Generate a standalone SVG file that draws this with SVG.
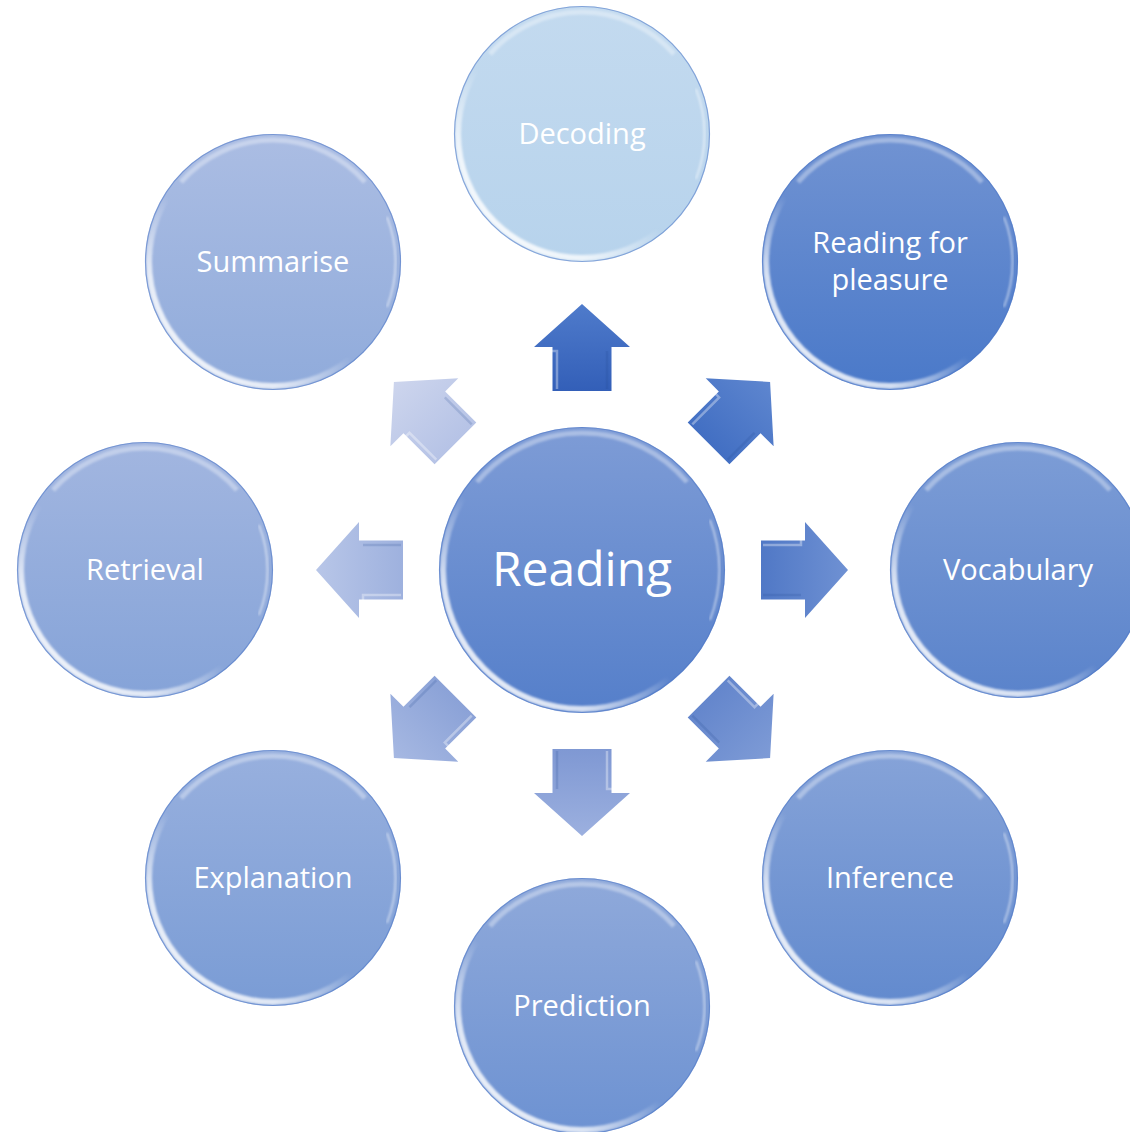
<svg xmlns="http://www.w3.org/2000/svg" width="1130" height="1132" viewBox="0 0 1130 1132">
<style>
.lbl{font-family:"Open Sans","Noto Sans","Liberation Sans",sans-serif;font-size:29px;fill:#ffffff;text-anchor:middle}
.big{font-size:48px}
.rim{fill:none;stroke:url(#rimG);stroke-width:6;filter:url(#soft)}
.top{fill:none;stroke:#ffffff;stroke-opacity:0.35;stroke-width:5;filter:url(#soft)}
.rside{fill:none;stroke:#ffffff;stroke-opacity:0.5;stroke-width:2;filter:url(#soft)}
.edge{fill:none;stroke:#4d77c6;stroke-opacity:0.55;stroke-width:1.2}
.bev{fill:none;stroke:#ffffff;stroke-opacity:0.35;stroke-width:2.5}
.bevd{fill:none;stroke:#22468f;stroke-opacity:0.18;stroke-width:2.5}
</style>
<defs>
<filter id="soft" x="-10%" y="-10%" width="120%" height="120%"><feGaussianBlur stdDeviation="1.2"/></filter>
<linearGradient id="rimG" x1="0" y1="1" x2="0.75" y2="0.15">
<stop offset="0" stop-color="#fff" stop-opacity="0.95"/>
<stop offset="0.3" stop-color="#fff" stop-opacity="0.75"/>
<stop offset="0.55" stop-color="#fff" stop-opacity="0"/>
</linearGradient>
<linearGradient id="cDec" x1="0" y1="0" x2="0" y2="1"><stop offset="0" stop-color="#C3DAEF"/><stop offset="1" stop-color="#B7D3EC"/></linearGradient>
<linearGradient id="cRfp" x1="0" y1="0" x2="0" y2="1"><stop offset="0" stop-color="#7193D2"/><stop offset="1" stop-color="#4A79C9"/></linearGradient>
<linearGradient id="cVoc" x1="0" y1="0" x2="0" y2="1"><stop offset="0" stop-color="#7D9DD6"/><stop offset="1" stop-color="#5A83CB"/></linearGradient>
<linearGradient id="cInf" x1="0" y1="0" x2="0" y2="1"><stop offset="0" stop-color="#86A3D8"/><stop offset="1" stop-color="#628ACE"/></linearGradient>
<linearGradient id="cPre" x1="0" y1="0" x2="0" y2="1"><stop offset="0" stop-color="#8FA9DA"/><stop offset="1" stop-color="#6D92D2"/></linearGradient>
<linearGradient id="cExp" x1="0" y1="0" x2="0" y2="1"><stop offset="0" stop-color="#98B0DE"/><stop offset="1" stop-color="#7A9CD5"/></linearGradient>
<linearGradient id="cRet" x1="0" y1="0" x2="0" y2="1"><stop offset="0" stop-color="#A2B6E0"/><stop offset="1" stop-color="#85A3D8"/></linearGradient>
<linearGradient id="cSum" x1="0" y1="0" x2="0" y2="1"><stop offset="0" stop-color="#ABBDE3"/><stop offset="1" stop-color="#90ABDB"/></linearGradient>
<linearGradient id="cRd" x1="0" y1="0" x2="0" y2="1"><stop offset="0" stop-color="#7E9CD6"/><stop offset="1" stop-color="#557FCA"/></linearGradient>
<linearGradient id="a0" x1="0" y1="0" x2="0" y2="1"><stop offset="0" stop-color="#4F7BCB"/><stop offset="1" stop-color="#335FB8"/></linearGradient>
<linearGradient id="a1" x1="0" y1="0" x2="0" y2="1"><stop offset="0" stop-color="#5E86CF"/><stop offset="1" stop-color="#426FC3"/></linearGradient>
<linearGradient id="a2" x1="0" y1="0" x2="0" y2="1"><stop offset="0" stop-color="#6F91D3"/><stop offset="1" stop-color="#5078C6"/></linearGradient>
<linearGradient id="a3" x1="0" y1="0" x2="0" y2="1"><stop offset="0" stop-color="#7E9BD6"/><stop offset="1" stop-color="#6486CC"/></linearGradient>
<linearGradient id="a4" x1="0" y1="0" x2="0" y2="1"><stop offset="0" stop-color="#9CB0DF"/><stop offset="1" stop-color="#7F98D3"/></linearGradient>
<linearGradient id="a5" x1="0" y1="0" x2="0" y2="1"><stop offset="0" stop-color="#A6B8E2"/><stop offset="1" stop-color="#8BA2D7"/></linearGradient>
<linearGradient id="a6" x1="0" y1="0" x2="0" y2="1"><stop offset="0" stop-color="#B8C6E8"/><stop offset="1" stop-color="#9EB1DE"/></linearGradient>
<linearGradient id="a7" x1="0" y1="0" x2="0" y2="1"><stop offset="0" stop-color="#CDD5ED"/><stop offset="1" stop-color="#B6C3E6"/></linearGradient>
<path id="arrowShape" d="M-29.5,-179 V-223 H-48 L0,-266 L48,-223 H29.5 V-179 Z"/>
</defs>
<rect width="1130" height="1132" fill="#ffffff"/>

<g id="connectors">
<g transform="translate(582 570) rotate(0)"><use href="#arrowShape" fill="url(#a0)"/><path class="bev" d="M-25,-181 V-219 H-40"/><path class="bevd" d="M25,-181 V-219"/></g>
<g transform="translate(582 570) rotate(45)"><use href="#arrowShape" fill="url(#a1)"/><path class="bev" d="M-25,-181 V-219 H-40"/><path class="bevd" d="M25,-181 V-219"/></g>
<g transform="translate(582 570) rotate(90)"><use href="#arrowShape" fill="url(#a2)"/><path class="bev" d="M-25,-181 V-219 H-40"/><path class="bevd" d="M25,-181 V-219"/></g>
<g transform="translate(582 570) rotate(135)"><use href="#arrowShape" fill="url(#a3)"/><path class="bev" d="M-25,-181 V-219 H-40"/><path class="bevd" d="M25,-181 V-219"/></g>
<g transform="translate(582 570) rotate(180)"><use href="#arrowShape" fill="url(#a4)"/><path class="bev" d="M-25,-181 V-219 H-40"/><path class="bevd" d="M25,-181 V-219"/></g>
<g transform="translate(582 570) rotate(225)"><use href="#arrowShape" fill="url(#a5)"/><path class="bev" d="M-25,-181 V-219 H-40"/><path class="bevd" d="M25,-181 V-219"/></g>
<g transform="translate(582 570) rotate(270)"><use href="#arrowShape" fill="url(#a6)"/><path class="bev" d="M-25,-181 V-219 H-40"/><path class="bevd" d="M25,-181 V-219"/></g>
<g transform="translate(582 570) rotate(315)"><use href="#arrowShape" fill="url(#a7)"/><path class="bev" d="M-25,-181 V-219 H-40"/><path class="bevd" d="M25,-181 V-219"/></g>
</g>

<g id="node-reading" transform="translate(582 570)">
<circle r="143" fill="url(#cRd)"/>
<circle r="139" class="rim"/>
<path class="top" d="M-105,-88 A137,137 0 0 1 105,-88"/>
<path class="rside" d="M128,-50 A138,138 0 0 1 128,50"/>
<circle r="142.5" class="edge"/>
<text class="lbl big" x="0" y="16">Reading</text>
</g>

<g id="node-decoding" transform="translate(582 134)">
<circle r="128" fill="url(#cDec)"/>
<circle r="124" class="rim"/>
<path class="top" d="M-92,-80 A122,122 0 0 1 92,-80"/>
<path class="rside" d="M114,-45 A123,123 0 0 1 114,45"/>
<circle r="127.5" class="edge" stroke="#a9c9e8"/>
<text class="lbl" x="0" y="10">Decoding</text>
</g>

<g id="node-pleasure" transform="translate(890 262)">
<circle r="128" fill="url(#cRfp)"/>
<circle r="124" class="rim"/>
<path class="top" d="M-92,-80 A122,122 0 0 1 92,-80"/>
<path class="rside" d="M114,-45 A123,123 0 0 1 114,45"/>
<circle r="127.5" class="edge"/>
<text class="lbl" x="0" y="-9">Reading for</text>
<text class="lbl" x="0" y="28">pleasure</text>
</g>

<g id="node-vocabulary" transform="translate(1018 570)">
<circle r="128" fill="url(#cVoc)"/>
<circle r="124" class="rim"/>
<path class="top" d="M-92,-80 A122,122 0 0 1 92,-80"/>
<circle r="127.5" class="edge"/>
<text class="lbl" x="0" y="10">Vocabulary</text>
</g>

<g id="node-inference" transform="translate(890 878)">
<circle r="128" fill="url(#cInf)"/>
<circle r="124" class="rim"/>
<path class="top" d="M-92,-80 A122,122 0 0 1 92,-80"/>
<path class="rside" d="M114,-45 A123,123 0 0 1 114,45"/>
<circle r="127.5" class="edge"/>
<text class="lbl" x="0" y="10">Inference</text>
</g>

<g id="node-prediction" transform="translate(582 1006)">
<circle r="128" fill="url(#cPre)"/>
<circle r="124" class="rim"/>
<path class="top" d="M-92,-80 A122,122 0 0 1 92,-80"/>
<path class="rside" d="M114,-45 A123,123 0 0 1 114,45"/>
<circle r="127.5" class="edge"/>
<text class="lbl" x="0" y="10">Prediction</text>
</g>

<g id="node-explanation" transform="translate(273 878)">
<circle r="128" fill="url(#cExp)"/>
<circle r="124" class="rim"/>
<path class="top" d="M-92,-80 A122,122 0 0 1 92,-80"/>
<path class="rside" d="M114,-45 A123,123 0 0 1 114,45"/>
<circle r="127.5" class="edge"/>
<text class="lbl" x="0" y="10">Explanation</text>
</g>

<g id="node-retrieval" transform="translate(145 570)">
<circle r="128" fill="url(#cRet)"/>
<circle r="124" class="rim"/>
<path class="top" d="M-92,-80 A122,122 0 0 1 92,-80"/>
<path class="rside" d="M114,-45 A123,123 0 0 1 114,45"/>
<circle r="127.5" class="edge"/>
<text class="lbl" x="0" y="10">Retrieval</text>
</g>

<g id="node-summarise" transform="translate(273 262)">
<circle r="128" fill="url(#cSum)"/>
<circle r="124" class="rim"/>
<path class="top" d="M-92,-80 A122,122 0 0 1 92,-80"/>
<path class="rside" d="M114,-45 A123,123 0 0 1 114,45"/>
<circle r="127.5" class="edge"/>
<text class="lbl" x="0" y="10">Summarise</text>
</g>
</svg>
